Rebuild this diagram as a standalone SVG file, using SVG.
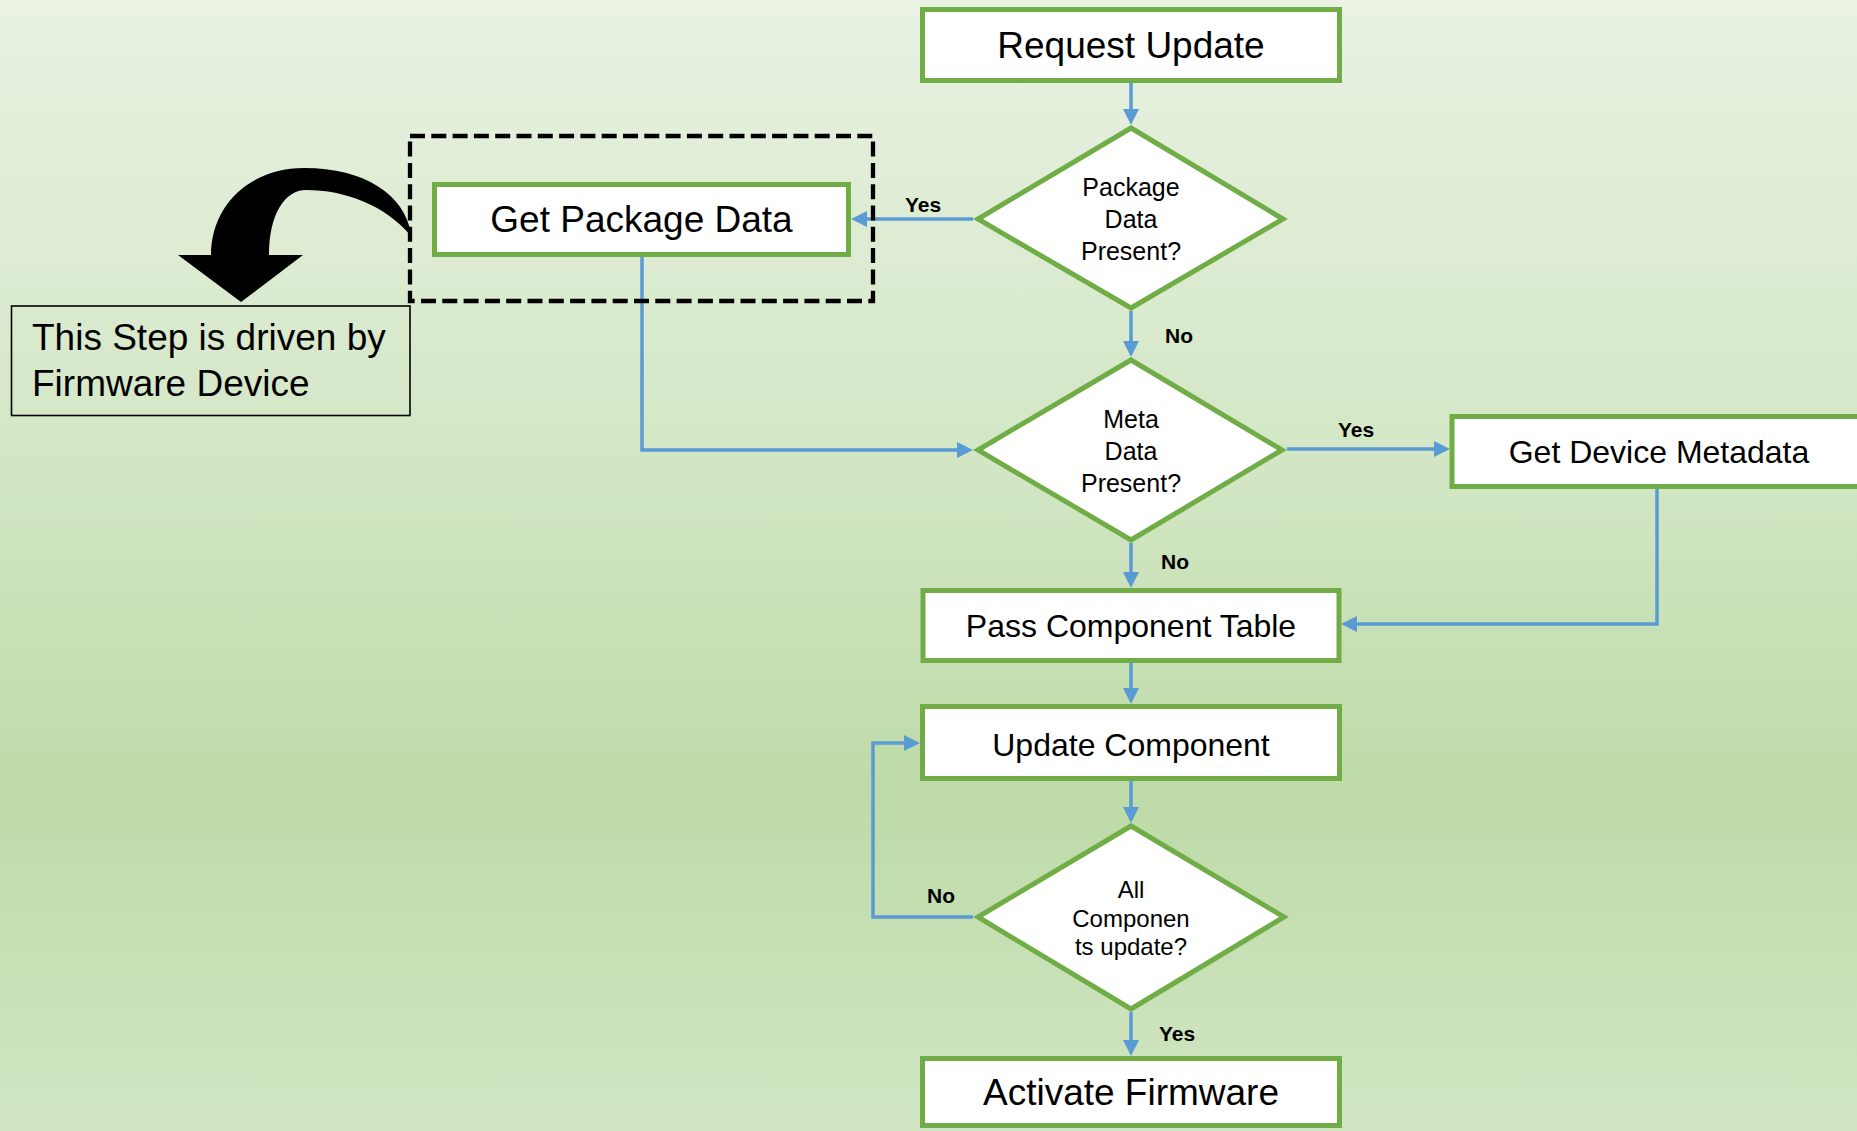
<svg xmlns="http://www.w3.org/2000/svg" width="1857" height="1131" viewBox="0 0 1857 1131">
  <defs>
    <linearGradient id="bg" x1="0" y1="0" x2="0" y2="1">
      <stop offset="0" stop-color="#e9f2e3"/>
      <stop offset="0.45" stop-color="#d0e5c1"/>
      <stop offset="0.7" stop-color="#bddaa7"/>
      <stop offset="1" stop-color="#d2e6c4"/>
    </linearGradient>
    <marker id="arrow" markerUnits="userSpaceOnUse" markerWidth="16" markerHeight="16" viewBox="0 0 16 16" refX="10" refY="8" orient="auto">
      <path d="M0,0 L16,8 L0,16 Z" fill="#5b9bd5"/>
    </marker>
    <style>
      .box { fill: #ffffff; stroke: #70ad47; stroke-width: 5; }
      .dec { fill: #ffffff; stroke: #70ad47; stroke-width: 5; stroke-linejoin: miter; }
      .lbl { font-family: "Liberation Sans", Arial, sans-serif; fill: #000000; text-anchor: middle; }
      .big { font-size: 37px; }
      .mid { font-size: 32px; }
      .dtx { font-size: 25px; }
      .yn { font-family: "Liberation Sans", Arial, sans-serif; font-size: 21px; font-weight: bold; fill: #000000; }
      .conn { fill: none; stroke: #5b9bd5; stroke-width: 3.5; marker-end: url(#arrow); }
    </style>
  </defs>

  <rect x="0" y="0" width="1857" height="1131" fill="url(#bg)"/>

  <!-- connectors -->
  <g id="connectors">
    <path class="conn" d="M1131,83 L1131,119"/>
    <path class="conn" d="M973,219 L857,219"/>
    <path class="conn" d="M1131,311 L1131,351"/>
    <path class="conn" d="M642,257 L642,450 L967,450"/>
    <path class="conn" d="M1287,449 L1444,449"/>
    <path class="conn" d="M1131,543 L1131,582"/>
    <path class="conn" d="M1657,489 L1657,624 L1347,624"/>
    <path class="conn" d="M1131,663 L1131,698"/>
    <path class="conn" d="M1131,781 L1131,817"/>
    <path class="conn" d="M973,917 L873,917 L873,743 L914,743"/>
    <path class="conn" d="M1131,1012 L1131,1050"/>
    <text class="yn" x="905" y="212">Yes</text>
    <text class="yn" x="1165" y="343">No</text>
    <text class="yn" x="1338" y="437">Yes</text>
    <text class="yn" x="1161" y="569">No</text>
    <text class="yn" x="927" y="903">No</text>
    <text class="yn" x="1159" y="1041">Yes</text>
  </g>

  <g id="request-update">
    <rect class="box" x="922.5" y="9.5" width="417" height="71"/>
    <text class="lbl big" x="1131" y="58">Request Update</text>
  </g>

  <g id="package-data-present">
    <polygon class="dec" points="1131,128 1283,219 1131,308 978,219"/>
    <text class="lbl dtx" x="1131" y="196">Package</text>
    <text class="lbl dtx" x="1131" y="228">Data</text>
    <text class="lbl dtx" x="1131" y="260">Present?</text>
  </g>

  <g id="get-package-data">
    <rect class="box" x="434.5" y="184.5" width="414" height="70"/>
    <text class="lbl big" x="641.5" y="232">Get Package Data</text>
  </g>

  <!-- firmware-device driven step -->
  <g id="device-step-frame">
    <rect x="410" y="136" width="463" height="165" fill="none" stroke="#000000" stroke-width="4.3" stroke-dasharray="15 6.3"/>
  </g>

  <g id="device-note">
    <path d="M411,234 C405,195 365,168 304,168 C250,168 211,205 211,255 L178,255 L241,302 L303,255 L269,255 C269,214 285,190 306,190 C345,190 385,205 411,236 Z" fill="#000000"/>
    <rect x="11.5" y="306" width="398.5" height="109.5" fill="none" stroke="#000000" stroke-width="1.6"/>
    <text x="32" y="350" font-family="Liberation Sans, Arial, sans-serif" font-size="37" fill="#000000">This Step is driven by</text>
    <text x="32" y="396" font-family="Liberation Sans, Arial, sans-serif" font-size="37" fill="#000000">Firmware Device</text>
  </g>

  <g id="meta-data-present">
    <polygon class="dec" points="1131,360 1282,450 1131,540 978,450"/>
    <text class="lbl dtx" x="1131" y="428">Meta</text>
    <text class="lbl dtx" x="1131" y="460">Data</text>
    <text class="lbl dtx" x="1131" y="492">Present?</text>
  </g>

  <g id="get-device-metadata">
    <rect class="box" x="1452" y="416.5" width="418" height="70"/>
    <text class="lbl mid" x="1659" y="463">Get Device Metadata</text>
  </g>

  <g id="pass-component-table">
    <rect class="box" x="923" y="590.5" width="416" height="70"/>
    <text class="lbl mid" x="1131" y="637">Pass Component Table</text>
  </g>

  <g id="update-component">
    <rect class="box" x="922.5" y="706.5" width="417" height="72"/>
    <text class="lbl mid" x="1131" y="756">Update Component</text>
  </g>

  <g id="all-components-updated">
    <polygon class="dec" points="1131,826 1284,917 1131,1009 978,917"/>
    <text class="lbl" font-size="24" x="1131" y="898">All</text>
    <text class="lbl" font-size="24" x="1131" y="927">Componen</text>
    <text class="lbl" font-size="24" x="1131" y="955">ts update?</text>
  </g>

  <g id="activate-firmware">
    <rect class="box" x="922.5" y="1058.5" width="417" height="67"/>
    <text class="lbl big" x="1131" y="1105">Activate Firmware</text>
  </g>
</svg>
